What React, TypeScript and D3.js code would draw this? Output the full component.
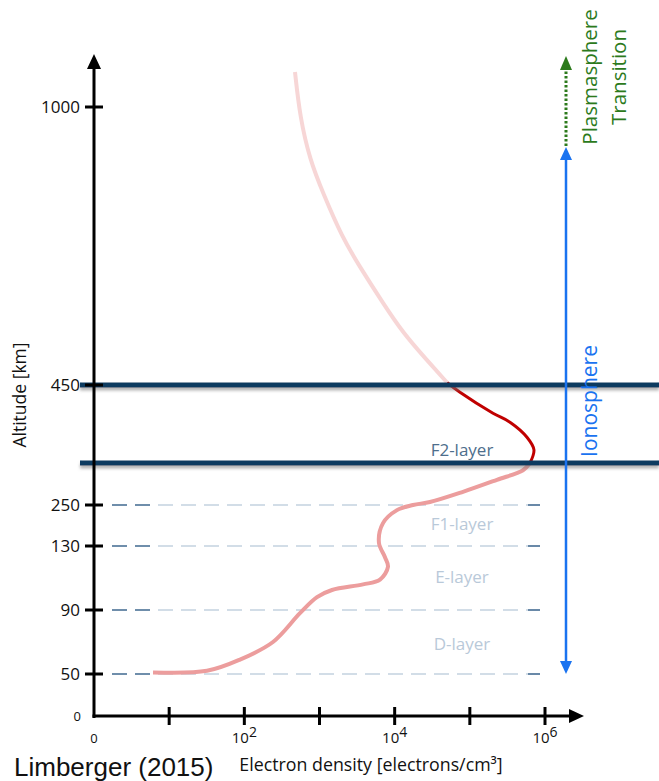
import React from "react";
import * as d3 from "d3";

// ---- data ----
const altitudeTicks = [0, 50, 90, 130, 250, 450, 1000];
const altitudeTickLabels = ["0", "50", "90", "130", "250", "450", "1000"];
const densityTickExps = [0, 1, 2, 3, 4, 5, 6];
const densityTickLabels = ["0", "", "10|2", "", "10|4", "", "10|6"];
const dashedAltitudes = [50, 90, 130, 250, 450];
const boundaryAltitudes = [450, 320];

// electron density profile (log10 Ne, altitude km)
const profileLogNe = [
  0.785, 1.503, 1.942, 2.381, 2.74, 2.967, 3.166, 3.579, 3.805, 3.911, 3.871, 3.791, 3.845, 4.031,
  4.244, 4.47, 4.909, 5.361, 5.707, 5.8, 5.853, 5.76, 5.534, 5.308, 4.869, 4.696, 4.43, 4.111,
  3.845, 3.539, 3.299, 3.046, 2.873, 2.74, 2.674,
];
const profileAlt = [
  51, 52, 59, 70, 88, 98, 102.5, 106, 109, 117, 123, 139, 197, 235, 250, 255, 272, 292, 308, 320,
  342, 363, 388, 403, 438, 455, 499, 553, 612, 683, 743, 830, 895, 980, 1069,
];
const segmentBreaks = [0, 19, 25, 34];
const segmentColors = ["#ec9d9d", "#c00000", "#f7d6d6"];

const layerNames = ["F2-layer", "F1-layer", "E-layer", "D-layer"];
const layerAlt = [332, 177, 107, 65];
const layerColors = ["#4d6e8c", "#b9c9d9", "#b9c9d9", "#b9c9d9"];

export default function App() {
  const W = 659, H = 781;
  const x = d3.scaleLog().domain([1, 1e6]).range([94, 545]);
  const y = d3
    .scaleLinear()
    .domain([0, 50, 90, 130, 250, 450, 1000, 1100])
    .range([716, 674, 610, 546, 505, 385, 107, 56.4]);
  const font = "'Open Sans', sans-serif";

  const pts: [number, number][] = profileLogNe.map((e, i) => [x(Math.pow(10, e)), y(profileAlt[i])]);
  const lineCR = d3.line().curve(d3.curveCatmullRom.alpha(0.5));
  const lineB = d3.line().curve(d3.curveBasis);
  const segs = [0, 1, 2].map((s) => pts.slice(segmentBreaks[s], segmentBreaks[s + 1] + 1));

  const axisX0 = x(1), axisY0 = y(0);
  const arrowX = 566;
  const ionoTop = y(1000) + 40, ionoBot = y(50);

  return (
    <svg width={W} height={H} style={{ position: "absolute", left: 0, top: 0 }}>
      <defs>
        <filter id="sh" filterUnits="userSpaceOnUse" x="0" y="0" width={W} height={H}>
          <feDropShadow dx="0" dy="3" stdDeviation="1.5" floodColor="#777" floodOpacity="0.55" />
        </filter>
      </defs>
      <rect width={W} height={H} fill="#fff" />

      {/* dashed layer lines */}
      {dashedAltitudes.map((a) => (
        <g key={a}>
          <line x1={112} x2={540} y1={y(a)} y2={y(a)} stroke="#c3d2df" strokeWidth={1.6} strokeDasharray="15 8" />
          <line x1={112} x2={150} y1={y(a)} y2={y(a)} stroke="#4f7498" strokeWidth={1.6} strokeDasharray="15 8" />
          <line x1={528} x2={540} y1={y(a)} y2={y(a)} stroke="#4f7498" strokeWidth={1.6} />
        </g>
      ))}

      {/* layer labels */}
      {layerNames.map((n, i) => (
        <text key={n} x={462} y={y(layerAlt[i])} textAnchor="middle" fontFamily={font} fontSize={17} fill={layerColors[i]}>
          {n}
        </text>
      ))}

      {/* profile */}
      {segs.map((s, i) => (
        <path
          key={i}
          d={(i === 2 ? lineB(s) : lineCR(s)) || ""}
          fill="none"
          stroke={segmentColors[i]}
          strokeWidth={i === 1 ? 3 : 4}
          strokeLinecap="butt"
        />
      ))}

      {/* boundary lines */}
      {boundaryAltitudes.map((a) => (
        <rect key={a} x={80} width={W - 80} y={y(a) - 2.5} height={5} fill="#0b3a60" filter="url(#sh)" />
      ))}

      {/* axes */}
      <line x1={axisX0} x2={axisX0} y1={axisY0 + 2} y2={66} stroke="#000" strokeWidth={3} />
      <path d={`M${axisX0 - 7},${69} L${axisX0},${54} L${axisX0 + 7},${69} Z`} fill="#000" />
      <line x1={axisX0 - 1.5} x2={572} y1={axisY0} y2={axisY0} stroke="#000" strokeWidth={3} />
      <path d={`M${569},${axisY0 - 7} L${584},${axisY0} L${569},${axisY0 + 7} Z`} fill="#000" />

      {altitudeTicks.map((t, i) => (
        <g key={t}>
          {t > 0 && <line x1={85} x2={103} y1={y(t)} y2={y(t)} stroke="#000" strokeWidth={3} />}
          <text
            x={t > 0 ? 80 : 81}
            y={y(t)}
            dy="0.36em"
            textAnchor="end"
            fontFamily={font}
            fontSize={t > 0 ? 17 : 13}
            fill="#111"
          >
            {altitudeTickLabels[i]}
          </text>
        </g>
      ))}

      {densityTickExps.map((e, i) => {
        const px = x(Math.pow(10, e));
        const lab = densityTickLabels[i];
        const [base, sup] = lab.split("|");
        return (
          <g key={e}>
            {e > 0 && <line x1={px} x2={px} y1={axisY0 - 9} y2={axisY0 + 9} stroke="#000" strokeWidth={3} />}
            {lab && (
              <text x={px} y={axisY0 + 27} textAnchor="middle" fontFamily={font} fontSize={e === 0 ? 13 : 15} fill="#111">
                {base}
                {sup && (
                  <tspan dy="-6" fontSize={14}>
                    {sup}
                  </tspan>
                )}
              </text>
            )}
          </g>
        );
      })}

      <text transform={`translate(26,${395}) rotate(-90)`} textAnchor="middle" fontFamily={font} fontSize={17.5} fill="#111">
        Altitude [km]
      </text>
      <text x={371} y={771} textAnchor="middle" fontFamily={font} fontSize={17.8} fill="#111">
        Electron density [electrons/cm³]
      </text>
      <text x={14} y={776} fontFamily="'Liberation Sans', Arial, sans-serif" fontSize={26} fill="#111">
        Limberger (2015)
      </text>

      {/* ionosphere arrow */}
      <line x1={arrowX} x2={arrowX} y1={ionoTop + 10} y2={ionoBot - 10} stroke="#1a73f0" strokeWidth={2.5} />
      <path d={`M${arrowX - 6},${ionoTop + 13} L${arrowX},${ionoTop} L${arrowX + 6},${ionoTop + 13} Z`} fill="#1a73f0" />
      <path d={`M${arrowX - 6},${ionoBot - 13} L${arrowX},${ionoBot} L${arrowX + 6},${ionoBot - 13} Z`} fill="#1a73f0" />
      <text transform={`translate(597,401) rotate(-90)`} textAnchor="middle" fontFamily={font} fontSize={21} fill="#1a73f0">
        Ionosphere
      </text>

      {/* plasmasphere transition */}
      <line x1={arrowX} x2={arrowX} y1={ionoTop - 1} y2={70} stroke="#2c7a1c" strokeWidth={3} strokeDasharray="2.5 2" />
      <path d={`M${arrowX - 6},${70} L${arrowX},${56} L${arrowX + 6},${70} Z`} fill="#2c7a1c" />
      <text transform={`translate(597,77) rotate(-90)`} textAnchor="middle" fontFamily={font} fontSize={20.5} fill="#2c7a1c">
        Plasmasphere
      </text>
      <text transform={`translate(626,77) rotate(-90)`} textAnchor="middle" fontFamily={font} fontSize={20.5} fill="#2c7a1c">
        Transition
      </text>
    </svg>
  );
}
